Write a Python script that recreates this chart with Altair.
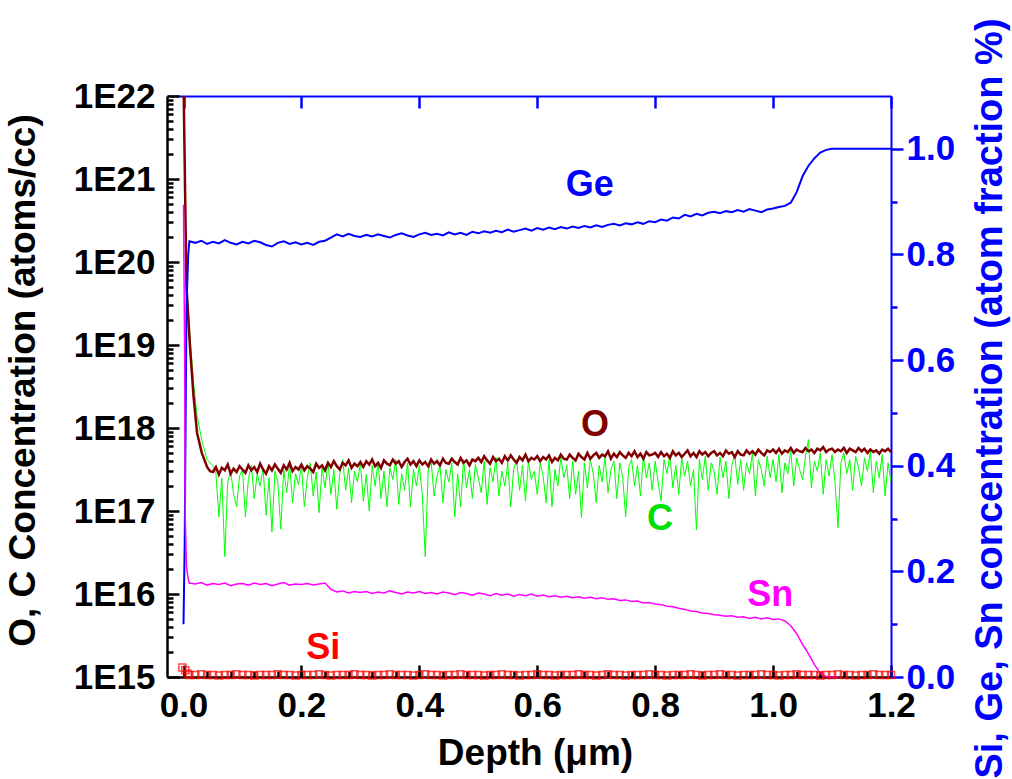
import altair as alt
import pandas as pd

FONT = "Liberation Sans"

# ---------------------------------------------------------------- data
# Depth in micrometres.  O and C are log10(atoms/cc); Ge, Sn, Si are atom fractions.

def grid(start, stop, step):
    n = int(round((stop - start) / step)) + 1
    return [round(start + i * step, 4) for i in range(n)]

# near-surface part of the O and C profiles
O_SURF_DEPTH = [0.0, 0.005, 0.011, 0.017, 0.023, 0.031, 0.040, 0.045]
O_SURF_LOG = [22.2, 19.7, 18.98, 18.38, 17.94, 17.70, 17.53, 17.48]
C_SURF_DEPTH = [0.0, 0.005, 0.011, 0.017, 0.023, 0.031, 0.036, 0.040, 0.045]
C_SURF_LOG = [22.2, 19.8, 19.1, 18.55, 18.15, 17.85, 17.72, 17.62, 17.58]

# bulk O and C, sampled every 5 nm from 0.05 to 1.2 um
OC_DEPTH = grid(0.05, 1.2, 0.005)
O_LOG = [
    17.47, 17.53, 17.44, 17.52, 17.49, 17.56, 17.45, 17.51, 17.47, 17.54,
    17.50, 17.46, 17.55, 17.49, 17.53, 17.47, 17.57, 17.50, 17.45, 17.54,
    17.49, 17.56, 17.51, 17.46, 17.55, 17.50, 17.58, 17.48, 17.53, 17.50,
    17.56, 17.49, 17.54, 17.51, 17.47, 17.57, 17.52, 17.55, 17.49, 17.58,
    17.53, 17.60, 17.54, 17.50, 17.58, 17.55, 17.61, 17.52, 17.57, 17.54,
    17.59, 17.53, 17.60, 17.56, 17.62, 17.54, 17.58, 17.52, 17.61, 17.57,
    17.55, 17.62, 17.57, 17.60, 17.53, 17.59, 17.63, 17.56, 17.60, 17.54,
    17.61, 17.56, 17.59, 17.54, 17.62, 17.57, 17.60, 17.55, 17.63, 17.58,
    17.57, 17.63, 17.59, 17.56, 17.64, 17.58, 17.61, 17.55, 17.62, 17.60,
    17.64, 17.59, 17.66, 17.61, 17.57, 17.65, 17.60, 17.63, 17.58, 17.66,
    17.61, 17.67, 17.62, 17.58, 17.65, 17.61, 17.68, 17.60, 17.64, 17.62,
    17.66, 17.60, 17.65, 17.62, 17.67, 17.59, 17.64, 17.61, 17.68, 17.63,
    17.62, 17.68, 17.64, 17.61, 17.69, 17.65, 17.62, 17.70, 17.63, 17.67,
    17.70, 17.64, 17.68, 17.66, 17.72, 17.63, 17.69, 17.65, 17.71, 17.67,
    17.64, 17.70, 17.66, 17.72, 17.65, 17.69, 17.63, 17.71, 17.67, 17.68,
    17.70, 17.65, 17.71, 17.66, 17.69, 17.64, 17.72, 17.67, 17.70, 17.65,
    17.69, 17.73, 17.66, 17.70, 17.65, 17.72, 17.68, 17.71, 17.66, 17.70,
    17.72, 17.67, 17.70, 17.66, 17.73, 17.69, 17.71, 17.65, 17.72, 17.68,
    17.67, 17.73, 17.69, 17.72, 17.68, 17.74, 17.70, 17.67, 17.73, 17.71,
    17.74, 17.70, 17.75, 17.69, 17.73, 17.71, 17.76, 17.70, 17.74, 17.72,
    17.71, 17.76, 17.72, 17.74, 17.70, 17.75, 17.73, 17.77, 17.71, 17.74,
    17.75, 17.71, 17.74, 17.72, 17.76, 17.70, 17.75, 17.73, 17.71, 17.76,
    17.72, 17.75, 17.70, 17.74, 17.71, 17.73, 17.69, 17.74, 17.72, 17.75,
    17.71,
]
C_LOG = [
    17.55, 17.45, 16.93, 17.40, 16.45, 17.35, 17.48, 17.20, 17.05, 17.42,
    17.50, 16.93, 17.38, 17.55, 17.15, 17.45, 17.30, 17.52, 16.95, 17.40,
    16.75, 17.48, 17.35, 16.78, 17.50, 17.22, 17.56, 17.10, 17.45, 17.32,
    17.54, 17.05, 17.40, 17.58, 17.18, 17.47, 16.98, 17.52, 17.28, 17.60,
    17.20, 17.50, 17.02, 17.45, 17.62, 17.25, 17.52, 17.10, 17.48, 17.35,
    17.58, 17.12, 17.44, 17.00, 17.55, 17.30, 17.60, 17.15, 17.48, 17.05,
    17.52, 17.38, 17.62, 17.08, 17.45, 17.25, 17.58, 17.05, 17.50, 17.30,
    17.55, 17.20, 16.45, 17.48, 17.60, 17.18, 17.42, 17.55, 17.10, 17.50,
    17.35, 17.58, 16.93, 17.45, 17.05, 17.62, 17.28, 17.50, 17.15, 17.56,
    17.40, 17.22, 17.60, 17.08, 17.52, 17.35, 17.65, 17.18, 17.48, 17.30,
    17.58, 17.05, 17.50, 17.62, 17.25, 17.55, 17.12, 17.60, 17.38, 17.48,
    17.20, 17.58, 17.42, 17.10, 17.62, 17.05, 17.50, 17.30, 17.65, 17.40,
    17.55, 17.15, 17.60, 17.20, 17.48, 16.92, 17.58, 17.28, 17.62, 17.45,
    17.10, 17.55, 17.35, 17.65, 17.22, 17.50, 17.60, 17.15, 17.58, 17.40,
    16.93, 17.52, 17.62, 17.30, 17.55, 17.18, 17.66, 17.40, 17.58, 17.25,
    17.60, 17.35, 17.12, 17.62, 17.45, 17.68, 17.28, 17.55, 17.20, 17.64,
    17.42, 17.60, 17.30, 17.50, 16.77, 17.62, 17.38, 17.66, 17.25, 17.58,
    17.48, 17.20, 17.65, 17.40, 17.60, 17.15, 17.55, 17.68, 17.32, 17.62,
    17.25, 17.58, 17.45, 17.70, 17.18, 17.62, 17.50, 17.30, 17.66, 17.40,
    17.62, 17.35, 17.68, 17.22, 17.58, 17.45, 17.72, 17.30, 17.64, 17.50,
    17.38, 17.66, 17.86, 17.28, 17.60, 17.48, 17.70, 17.20, 17.62, 17.42,
    17.68, 17.35, 16.80, 17.58, 17.70, 17.45, 17.62, 17.25, 17.66, 17.52,
    17.30, 17.64, 17.48, 17.72, 17.22, 17.60, 17.40, 17.68, 17.18, 17.58,
    17.35,
]

# Ge, Sn, Si atom fractions: surface points, then every 10 nm
GE_SURF_DEPTH = [0.0, 0.002, 0.005, 0.008]
GE_SURF = [0.10, 0.25, 0.70, 0.80]
GE_DEPTH = grid(0.01, 1.2, 0.01)
GE = [
    0.825, 0.822, 0.826, 0.820, 0.824, 0.821, 0.827, 0.822, 0.819, 0.824,
    0.821, 0.826, 0.823, 0.818, 0.815, 0.822, 0.825, 0.820, 0.823, 0.819,
    0.822, 0.818, 0.824, 0.826, 0.832, 0.838, 0.834, 0.839, 0.835, 0.833,
    0.837, 0.834, 0.838, 0.835, 0.832, 0.837, 0.840, 0.836, 0.833, 0.838,
    0.841, 0.837, 0.839, 0.836, 0.842, 0.838, 0.841, 0.837, 0.843, 0.840,
    0.844, 0.841, 0.845, 0.842, 0.847, 0.843, 0.846, 0.849, 0.845, 0.850,
    0.847, 0.851, 0.848, 0.852, 0.849, 0.853, 0.850, 0.854, 0.851, 0.855,
    0.852, 0.856, 0.858, 0.855, 0.859, 0.857, 0.861, 0.858, 0.863, 0.861,
    0.866, 0.864, 0.870, 0.868, 0.875, 0.872, 0.877, 0.874, 0.879, 0.881,
    0.878, 0.882, 0.880, 0.884, 0.881, 0.886, 0.883, 0.880, 0.885, 0.887,
    0.890, 0.892, 0.898, 0.918, 0.948, 0.968, 0.982, 0.993, 0.998, 1.000,
    1.000, 1.000, 1.000, 1.000, 1.000, 1.000, 1.000, 1.000, 1.000, 1.000,
]

SN_SURF_DEPTH = [0.0, 0.002, 0.003, 0.005, 0.008]
SN_SURF = [0.894, 0.60, 0.30, 0.21, 0.185]
SN_DEPTH = grid(0.01, 1.11, 0.01)
SN = [
    0.178, 0.176, 0.179, 0.174, 0.177, 0.175, 0.178, 0.173, 0.176, 0.177,
    0.174, 0.178, 0.175, 0.177, 0.173, 0.176, 0.179, 0.174, 0.176, 0.175,
    0.177, 0.174, 0.176, 0.178, 0.166, 0.161, 0.163, 0.159, 0.162, 0.160,
    0.162, 0.158, 0.161, 0.159, 0.163, 0.160, 0.157, 0.161, 0.159, 0.162,
    0.158, 0.160, 0.157, 0.161, 0.159, 0.156, 0.160, 0.158, 0.155, 0.159,
    0.157, 0.154, 0.158, 0.155, 0.157, 0.153, 0.156, 0.154, 0.157, 0.153,
    0.155, 0.152, 0.154, 0.151, 0.153, 0.150, 0.152, 0.149, 0.151, 0.148,
    0.150, 0.147, 0.148, 0.145, 0.146, 0.143, 0.144, 0.140, 0.141, 0.138,
    0.137, 0.134, 0.133, 0.130, 0.128, 0.125, 0.124, 0.121, 0.120, 0.118,
    0.117, 0.115, 0.116, 0.113, 0.114, 0.111, 0.113, 0.110, 0.112, 0.109,
    0.110, 0.106, 0.097, 0.082, 0.062, 0.044, 0.024, 0.007, 0.001, 0.000,
    0.000,
]

SI_SURF_DEPTH = [-0.002, 0.003, 0.007]
SI_SURF = [0.018, 0.013, 0.006]
SI_DEPTH = grid(0.01, 1.2, 0.01)
SI = [
    0.004, 0.004, 0.005, 0.004, 0.004, 0.003, 0.004, 0.004, 0.005, 0.004,
    0.004, 0.003, 0.004, 0.004, 0.004, 0.005, 0.004, 0.004, 0.003, 0.004,
    0.004, 0.004, 0.005, 0.004, 0.003, 0.004, 0.004, 0.004, 0.005, 0.004,
    0.004, 0.003, 0.004, 0.004, 0.005, 0.004, 0.004, 0.004, 0.003, 0.004,
    0.005, 0.004, 0.004, 0.003, 0.004, 0.004, 0.005, 0.004, 0.004, 0.004,
    0.003, 0.004, 0.004, 0.005, 0.004, 0.004, 0.003, 0.004, 0.004, 0.005,
    0.004, 0.004, 0.003, 0.004, 0.004, 0.004, 0.005, 0.004, 0.004, 0.003,
    0.004, 0.005, 0.004, 0.004, 0.003, 0.004, 0.004, 0.004, 0.005, 0.004,
    0.004, 0.003, 0.004, 0.004, 0.004, 0.005, 0.004, 0.003, 0.004, 0.004,
    0.005, 0.004, 0.004, 0.003, 0.004, 0.004, 0.004, 0.005, 0.004, 0.004,
    0.003, 0.004, 0.004, 0.005, 0.004, 0.004, 0.004, 0.003, 0.004, 0.004,
    0.005, 0.004, 0.004, 0.003, 0.004, 0.004, 0.005, 0.004, 0.004, 0.004,
]

# series labels: (text, depth, value, colour)
LEFT_LABELS = [("O", 0.698, 1.1e18, "#800000"), ("C", 0.808, 7.9e16, "#00E000")]
RIGHT_LABELS = [("Ge", 0.689, 0.932, "#0000FF"), ("Sn", 0.995, 0.155, "#FF00FF"),
                ("Si", 0.237, 0.055, "#FF0000")]

# axis tick positions
X_MAJOR = [0.0, 0.2, 0.4, 0.6, 0.8, 1.0, 1.2]
X_MINOR = [round(0.04 * i, 2) for i in range(31)]
LEFT_MAJOR = [10.0 ** e for e in range(15, 23)]
LEFT_MINOR = [m * 10.0 ** e for e in range(15, 22) for m in range(2, 10)]
RIGHT_MAJOR = [0.0, 0.2, 0.4, 0.6, 0.8, 1.0]
RIGHT_MINOR = [0.1, 0.3, 0.5, 0.7, 0.9]

# ---------------------------------------------------------------- frames
o_df = pd.DataFrame({"depth": O_SURF_DEPTH + OC_DEPTH,
                     "conc": [10.0 ** v for v in O_SURF_LOG + O_LOG]})
c_df = pd.DataFrame({"depth": C_SURF_DEPTH + OC_DEPTH,
                     "conc": [10.0 ** v for v in C_SURF_LOG + C_LOG]})
ge_df = pd.DataFrame({"depth": GE_SURF_DEPTH + GE_DEPTH, "frac": GE_SURF + GE})
sn_df = pd.DataFrame({"depth": SN_SURF_DEPTH + SN_DEPTH, "frac": SN_SURF + SN})
si_df = pd.DataFrame({"depth": SI_SURF_DEPTH + SI_DEPTH, "frac": SI_SURF + SI})
left_lab = pd.DataFrame(LEFT_LABELS, columns=["label", "depth", "conc", "color"])
right_lab = pd.DataFrame(RIGHT_LABELS, columns=["label", "depth", "frac", "color"])

# ---------------------------------------------------------------- scales / axes
W, H = 724, 581
x_scale = alt.Scale(domain=[-0.028, 1.2], nice=False, zero=False)
yl_scale = alt.Scale(type="log", domain=[1e15, 1e22], nice=False)
yr_scale = alt.Scale(domain=[0.0, 1.1], nice=False, zero=False)

LABEL_SIZE = 35
TITLE_SIZE = 37
BLUE = "#0000FF"


def inner_ticks(orient, offset, values, size, color="black"):
    # an axis moved onto the opposite edge so that its ticks point into the plot
    return alt.Axis(orient=orient, offset=offset, values=values, tickSize=size,
                    tickColor=color, tickWidth=2.5, labels=False, domain=False,
                    grid=False, title=None)


x_main = alt.Axis(orient="bottom", values=X_MAJOR, format=".1f", ticks=False,
                  labelPadding=11, labelFont=FONT, labelFontSize=LABEL_SIZE,
                  labelFontWeight="bold", labelColor="black", labelFlush=False,
                  labelOverlap=False, domainColor="black", domainWidth=2.5, grid=False,
                  title="Depth (\u03bcm)", titleFont=FONT, titleFontSize=TITLE_SIZE,
                  titleFontWeight="bold", titleColor="black", titleX=368, titleY=76,
                  titleBaseline="middle")
x_top_frame = alt.Axis(orient="top", ticks=False, labels=False, domain=True,
                       domainColor=BLUE, domainWidth=2, grid=False, title=None)

yl_main = alt.Axis(orient="left", values=LEFT_MAJOR, ticks=False,
                   labelExpr="'1E' + round(log(datum.value) / LN10)",
                   labelPadding=12, labelFont=FONT, labelFontSize=LABEL_SIZE,
                   labelFontWeight="bold", labelColor="black", labelFlush=False,
                   labelOverlap=False, domainColor="black", domainWidth=2.5, grid=False,
                   title="O, C Concentration (atoms/cc)", titleFont=FONT,
                   titleFontSize=TITLE_SIZE, titleFontWeight="bold", titleColor="black",
                   titleAngle=270, titleX=-144, titleY=284, titleBaseline="middle")

yr_main = alt.Axis(orient="right", values=RIGHT_MAJOR, format=".1f", tickSize=12,
                   tickColor=BLUE, tickWidth=2.5, labelPadding=3, labelFont=FONT,
                   labelFontSize=LABEL_SIZE, labelFontWeight="bold", labelColor=BLUE,
                   labelFlush=False, labelOverlap=False, domainColor=BLUE,
                   domainWidth=2, grid=False,
                   title="Si, Ge, Sn concentration (atom fraction %)", titleFont=FONT,
                   titleFontSize=38, titleFontWeight="bold", titleColor=BLUE,
                   titleAngle=270, titleX=99, titleY=302, titleBaseline="middle")
yr_minor = alt.Axis(orient="right", values=RIGHT_MINOR, tickSize=6,
                    tickColor=BLUE, tickWidth=2.5, labels=False, domain=False,
                    grid=False, title=None)


def X(axis):
    return alt.X("depth:Q", scale=x_scale, axis=axis)


def YL(axis):
    return alt.Y("conc:Q", scale=yl_scale, axis=axis)


def YR(axis):
    return alt.Y("frac:Q", scale=yr_scale, axis=axis)


# ---------------------------------------------------------------- marks
c_line = alt.Chart(c_df).mark_line(color="#00FF00", strokeWidth=1, clip=True).encode(
    x=X(inner_ticks("top", -H, X_MAJOR, 12)),
    y=YL(inner_ticks("right", -W, LEFT_MAJOR, 12)))
o_line = alt.Chart(o_df).mark_line(color="#800000", strokeWidth=2.5, clip=True).encode(
    x=X(x_main), y=YL(yl_main))
left_text = alt.Chart(left_lab).mark_text(
    font=FONT, fontSize=36, fontWeight="bold", align="center", baseline="middle"
).encode(x=X(inner_ticks("top", -H, X_MINOR, 6)),
         y=YL(inner_ticks("right", -W, LEFT_MINOR, 6)),
         text="label:N", color=alt.Color("color:N", scale=None))

ge_line = alt.Chart(ge_df).mark_line(color=BLUE, strokeWidth=2).encode(
    x=X(x_top_frame), y=YR(yr_main))
sn_line = alt.Chart(sn_df).mark_line(color="#FF00FF", strokeWidth=1.5).encode(
    x=X(inner_ticks("bottom", -H, X_MAJOR, 12, BLUE)), y=YR(yr_minor))
si_pts = alt.Chart(si_df).mark_point(shape="square", filled=False, size=49,
                                     strokeWidth=1.5, color="#FF0000").encode(
    x=X(None), y=YR(None))
right_text = alt.Chart(right_lab).mark_text(
    font=FONT, fontSize=36, fontWeight="bold", align="center", baseline="middle"
).encode(x=X(None), y=YR(None), text="label:N",
         color=alt.Color("color:N", scale=None))

left = alt.layer(c_line, o_line, left_text).resolve_axis(x="independent", y="independent")
right = alt.layer(ge_line, sn_line, si_pts, right_text).resolve_axis(
    x="independent", y="independent")

chart = (
    alt.layer(left, right)
    .resolve_scale(y="independent")
    .resolve_axis(x="independent", y="independent")
    .properties(width=W, height=H, autosize=alt.AutoSizeParams(type="none"),
                padding={"left": 167, "top": 96, "right": 121, "bottom": 102})
    .configure_view(strokeWidth=0)
)

chart.save("out.html", embed_options={"renderer": "svg", "actions": False})
